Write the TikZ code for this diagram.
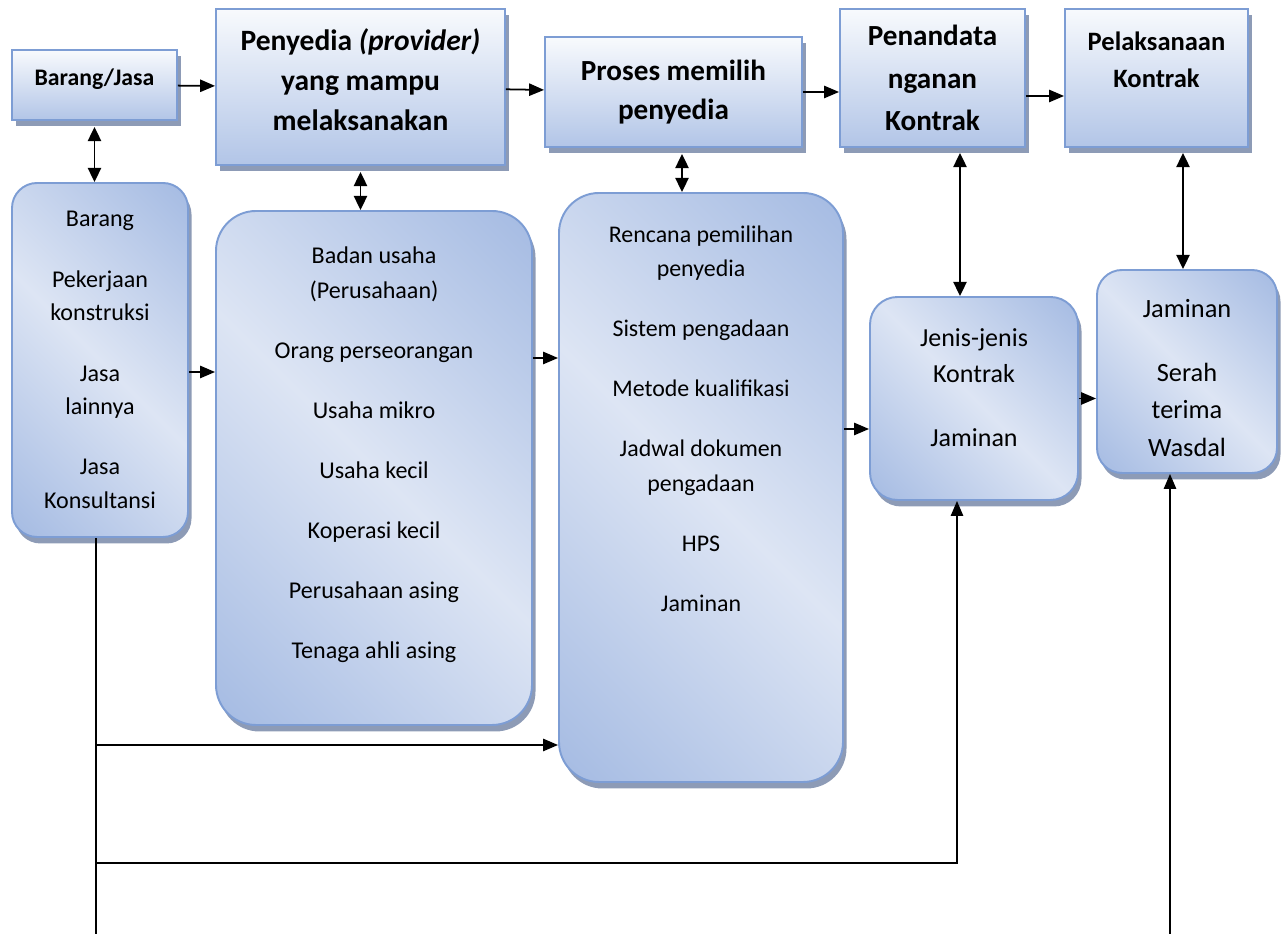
\documentclass[tikz,border=0pt]{standalone}
\usepackage{fontspec}
\setmainfont{Carlito}
\usetikzlibrary{arrows.meta, shadows}

\definecolor{garis}{RGB}{125,157,212}
\definecolor{birutua}{RGB}{141,169,219}
\definecolor{birumuda}{RGB}{221,229,244}
\definecolor{putihbiru}{RGB}{248,250,253}
\definecolor{biruatas}{RGB}{178,197,231}
\definecolor{bayangan}{RGB}{141,155,182}

\pgfdeclareverticalshading{diagbiru}{100bp}{color(0bp)=(birutua); color(50bp)=(birumuda); color(100bp)=(birutua)}

\tikzstyle{bayang} = [drop shadow={shadow xshift=0.07cm, shadow yshift=-0.13cm, fill=bayangan, opacity=1}]
\tikzstyle{judul} = [rectangle, draw=garis, line width=1.1pt, top color=putihbiru, bottom color=biruatas, bayang, align=center]
\tikzstyle{isi} = [rectangle, draw=garis, line width=1.1pt, shading=diagbiru, shading angle=-45, bayang, align=center]
\tikzstyle{arrow} = [line width=1pt, -{Triangle[length=8.5pt, width=7pt]}]
\tikzstyle{darrow} = [line width=1pt, {Triangle[length=8pt, width=7.5pt]}-{Triangle[length=8pt, width=7.5pt]}]
\tikzstyle{line} = [line width=1pt]

\begin{document}
\begin{tikzpicture}
        \useasboundingbox (0,0) rectangle (25.74,18.68);
        % baris atas
        \node (brg) [judul, minimum width=3.3cm, minimum height=1.4cm, font=\bfseries\fontsize{13.5}{16}\selectfont] at (1.89,16.98) {Barang/Jasa\\[-0.26cm]\mbox{}};
        \node (penyedia) [judul, minimum width=5.78cm, minimum height=3.12cm, font=\bfseries\fontsize{16.8}{22.8}\selectfont] at (7.21,16.94) {Penyedia \textit{(provider)}\\ yang mampu\\ melaksanakan\\[-0.52cm]\mbox{}};
        \node (proses) [judul, minimum width=5.14cm, minimum height=2.2cm, font=\bfseries\fontsize{16.6}{22.2}\selectfont] at (13.47,16.84) {Proses memilih\\ penyedia};
        \node (penandata) [judul, minimum width=3.7cm, minimum height=2.76cm, font=\bfseries\fontsize{16.6}{24.2}\selectfont] at (18.65,17.12) {Penandata\\ nganan\\ Kontrak};
        \node (pelaksanaan) [judul, minimum width=3.66cm, minimum height=2.76cm, font=\bfseries\fontsize{15.1}{21}\selectfont] at (23.13,17.12) {Pelaksanaan\\ Kontrak\\ \mbox{}};
        % kotak isi
        \node (jenisbrg) [isi, rounded corners=0.5cm, minimum width=3.52cm, minimum height=7.08cm, font=\fontsize{13.7}{19}\selectfont] at (2.0,11.48) {Barang\\[0.54cm] Pekerjaan\\ konstruksi\\[0.54cm] Jasa\\ lainnya\\[0.54cm] Jasa\\ Konsultansi};
        \node (pelaku) [isi, rounded corners=0.8cm, minimum width=6.32cm, minimum height=10.28cm, font=\fontsize{13.7}{19.9}\selectfont] at (7.48,9.32) {Badan usaha\\ (Perusahaan)\\[0.5cm] Orang perseorangan\\[0.5cm] Usaha mikro\\[0.5cm] Usaha kecil\\[0.5cm] Koperasi kecil\\[0.5cm] Perusahaan asing\\[0.5cm] Tenaga ahli asing\\[-0.1cm]\mbox{}};
        \node (rencana) [isi, rounded corners=0.8cm, minimum width=5.68cm, minimum height=11.78cm, font=\fontsize{13.6}{19.6}\selectfont] at (14.02,8.93) {Rencana pemilihan\\ penyedia\\[0.51cm] Sistem pengadaan\\[0.51cm] Metode kualifikasi\\[0.51cm] Jadwal dokumen\\ pengadaan\\[0.51cm] HPS\\[0.51cm] Jaminan\\[2.07cm]\mbox{}};
        \node (kontrak) [isi, rounded corners=0.55cm, minimum width=4.16cm, minimum height=4.06cm, font=\fontsize{14.8}{20.5}\selectfont] at (19.48,10.71) {Jenis-jenis\\ Kontrak\\[0.56cm] Jaminan\\[-0.28cm]\mbox{}};
        \node (jaminan) [isi, rounded corners=0.5cm, minimum width=3.6cm, minimum height=4.06cm, font=\fontsize{15}{21.3}\selectfont] at (23.74,11.25) {\mbox{}\\[-0.14cm] Jaminan\\[0.53cm] Serah\\ terima\\ Wasdal};
        % titik bawah
        \coordinate (t1) at (1.92,0);
        \coordinate (t2) at (1.92,3.78);
        \coordinate (t3) at (1.92,1.42);
        \coordinate (t4) at (23.40,0);
        % panah
        \draw [arrow] (brg) -- (penyedia);
        \draw [arrow] (penyedia) -- (proses);
        \draw [arrow] (proses.east) -- (proses.east -| penandata.west);
        \draw [arrow] ([yshift=-0.36cm]penandata.east) -- ([yshift=-0.36cm]pelaksanaan.west);
        \draw [darrow] ([yshift=-0.12cm]brg.south) -- (brg.south |- jenisbrg.north);
        \draw [darrow] ([yshift=-0.12cm]penyedia.south) -- (penyedia.south |- pelaku.north);
        \draw [darrow] ([xshift=0.17cm, yshift=-0.12cm]proses.south) -- ([xshift=0.17cm]proses.south |- rencana.north);
        \draw [darrow] ([xshift=0.55cm, yshift=-0.1cm]penandata.south) -- ([xshift=0.55cm]penandata.south |- kontrak.north);
        \draw [darrow] ([xshift=0.53cm, yshift=-0.1cm]pelaksanaan.south) -- ([xshift=0.53cm]pelaksanaan.south |- jaminan.north);
        \draw [arrow] ([yshift=-0.24cm]jenisbrg.east) -- ([yshift=-0.24cm]jenisbrg.east -| pelaku.west);
        \draw [arrow] ([yshift=2.2cm]pelaku.east) -- ([yshift=2.2cm]pelaku.east -| rencana.west);
        \draw [arrow] ([yshift=-0.61cm]kontrak.west -| rencana.east) -- ([yshift=-0.61cm]kontrak.west);
        \draw [arrow] (kontrak.east) -- (kontrak.east -| jaminan.west);
        \draw [line] (jenisbrg.south -| t1) -- (t1);
        \draw [arrow] (t2) -- (t2 -| rencana.west);
        \draw [arrow] (t3) -| ([xshift=-0.34cm]kontrak.south);
        \draw [arrow] (t4) -- (t4 |- jaminan.south);
\end{tikzpicture}
\end{document}
